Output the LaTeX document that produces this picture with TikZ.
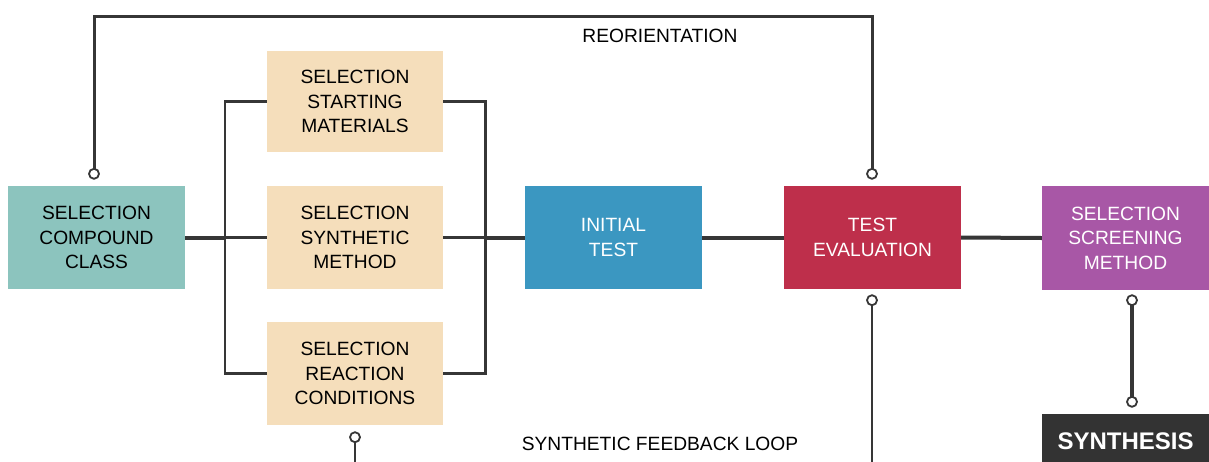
\documentclass[tikz,border=0pt]{standalone}
\usepackage{fontspec}
\setmainfont{Liberation Sans}
\usetikzlibrary{calc}
\definecolor{teal}{HTML}{8CC4BE}
\definecolor{tan}{HTML}{F5DEBB}
\definecolor{blueb}{HTML}{3B97C1}
\definecolor{redb}{HTML}{BE2F4B}
\definecolor{purpleb}{HTML}{A857A6}
\definecolor{darkb}{HTML}{333333}
\definecolor{wire}{HTML}{363636}
\tikzset{
  box/.style={rectangle, inner sep=0pt, align=center, font=\fontsize{19.2}{24.5}\selectfont,
              minimum width=177pt, minimum height=103pt},
  lightbox/.style={box, fill=#1, text=black},
  darkbox/.style={box, fill=#1, text=white},
  link/.style={draw=wire, line width=2.6pt},
  heavylink/.style={draw=wire, line width=4pt},
  pinend/.style={circle, draw=wire, fill=white, line width=1.8pt, minimum size=10pt, inner sep=0pt},
  caption/.style={font=\fontsize{19.2}{22}\selectfont, text=black}
}
\begin{document}
\begin{tikzpicture}[x=1pt, y=-1pt]
\useasboundingbox (0,0) rectangle (1209,461);
\clip (0,0) rectangle (1209,461);

% process boxes
\node[lightbox=teal] (comp) at (96.5,237.5) {SELECTION\\COMPOUND\\CLASS};
\node[lightbox=tan, minimum width=176pt, minimum height=101pt] (start) at (355,101.5) {SELECTION\\STARTING\\MATERIALS};
\node[lightbox=tan, minimum width=176pt] (synth) at (355,237.5) {SELECTION\\SYNTHETIC\\METHOD};
\node[lightbox=tan, minimum width=176pt] (react) at (355,373.5) {SELECTION\\REACTION\\CONDITIONS};
\node[darkbox=blueb] (init) at (613.5,237.5) {INITIAL\\TEST};
\node[darkbox=redb] (eval) at (872.5,237.5) {TEST\\EVALUATION};
\node[darkbox=purpleb, minimum width=167pt, minimum height=104pt] (screen) at (1125.5,238) {SELECTION\\SCREENING\\METHOD};
\node[box, fill=darkb, text=white, minimum width=167pt, minimum height=54pt,
      font=\fontsize{24}{26}\selectfont\bfseries] (synthesis) at (1125.5,441) {SYNTHESIS};

% parallel selection branch
\draw[link] (start.west) -- ++(-42,0) coordinate (bl1) |- (react.west);
\draw[link] (start.east) -- ++(42,0) coordinate (br1) |- (react.east);
\draw[link] (synth.west) -- ++(-42,0) coordinate (blm);
\draw[link] (synth.east) -- ++(42,0) coordinate (brm);
\draw[heavylink] (comp.east) -- (blm);
\draw[heavylink] (brm) -- (init.west);

% main chain
\draw[heavylink] (init.east) -- (eval.west);
\draw[heavylink] (eval.east) -- (screen.west);

% reorientation loop
\coordinate (rl) at ($(comp.north)+(-2.5,-12)$);
\coordinate (rr) at ($(eval.north)+(-0.5,-12)$);
\draw[link, line width=3pt] (rl) -- (rl |- 0,16) -| (rr);
\node[pinend] at (rl) {};
\node[pinend] at (rr) {};
\node[caption] (reo) at (660,36) {REORIENTATION};

% synthetic feedback loop
\coordinate (fe) at ($(eval.south)+(-0.5,11)$);
\coordinate (fr) at ($(react.south)+(0,12)$);
\coordinate (feEnd) at (fe |- 0,470);
\coordinate (frEnd) at (fr |- 0,470);
\draw[link] (fe) -- (feEnd);
\draw[link] (fr) -- (frEnd);
\node[pinend] at (fe) {};
\node[pinend] at (fr) {};
\node[caption] (sfl) at (660,444) {SYNTHETIC FEEDBACK LOOP};

% screening to synthesis
\coordinate (sa) at ($(screen.south)+(6.5,10)$);
\coordinate (sb) at ($(synthesis.north)+(6.5,-12)$);
\draw[link, line width=3.6pt] (sa) -- (sb);
\node[pinend] at (sa) {};
\node[pinend] at (sb) {};
\end{tikzpicture}
\end{document}
